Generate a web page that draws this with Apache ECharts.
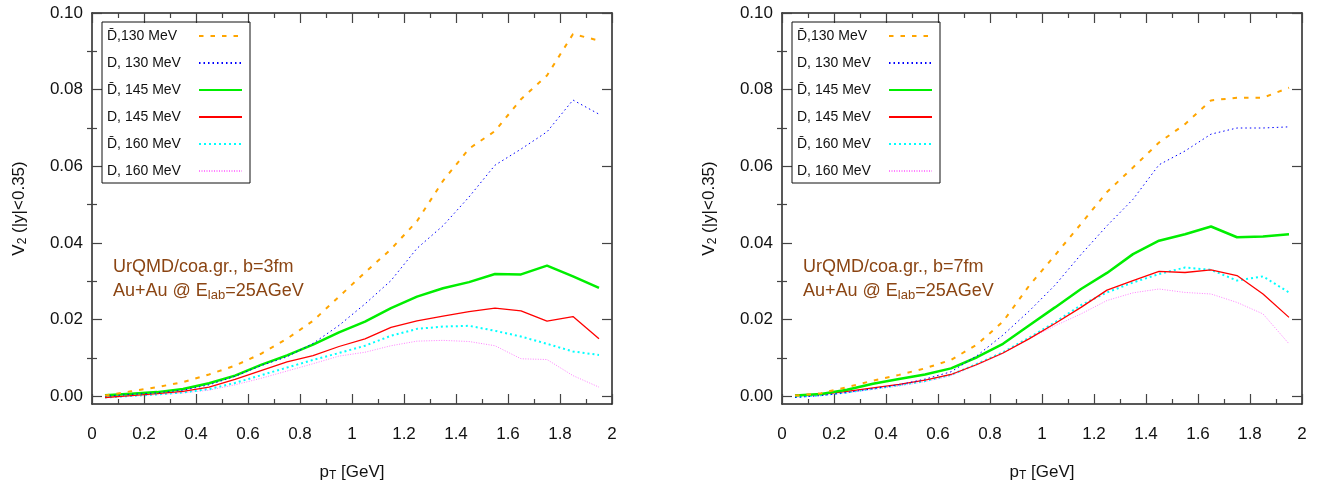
<!DOCTYPE html>
<html><head><meta charset="utf-8">
<script src="https://cdn.jsdelivr.net/npm/echarts@6/dist/echarts.min.js"></script>
<style>html,body{margin:0;padding:0;background:#fff}#c{width:1328px;height:487px}</style>
</head><body><div id="c"></div>
<script>
// ---------- data ----------
const pT = [0.05,0.15,0.25,0.35,0.45,0.55,0.65,0.75,0.85,0.95,1.05,1.15,1.25,1.35,1.45,1.55,1.65,1.75,1.85,1.95];
const xTicks = [0,0.2,0.4,0.6,0.8,1,1.2,1.4,1.6,1.8,2];
const yTicks = [0,0.02,0.04,0.06,0.08,0.1];
const yMinorTicks = [0.01,0.03,0.05,0.07,0.09];
const seriesNames = ['D\u0304,130 MeV','D, 130 MeV','D\u0304, 145 MeV','D, 145 MeV','D\u0304, 160 MeV','D, 160 MeV'];
const panelTitles = ['UrQMD/coa.gr., b=3fm','UrQMD/coa.gr., b=7fm'];
const reactionText = 'Au+Au @ E{s|lab}=25AGeV';
const xAxisTitle = 'p{s|T} [GeV]';
const yAxisTitle = 'V{s|2} (|y|<0.35)';

// b = 3 fm (left panel)
const b3_Dbar130 = [0.0002,0.0013,0.0024,0.0037,0.0057,0.0080,0.0111,0.0150,0.0197,0.0260,0.0323,0.0384,0.0457,0.0562,0.0646,0.0692,0.0775,0.0837,0.0945,0.0928];
const b3_D130    = [0.0000,0.0005,0.0009,0.0016,0.0030,0.0052,0.0080,0.0103,0.0138,0.0185,0.0241,0.0302,0.0386,0.0445,0.0520,0.0603,0.0645,0.0690,0.0773,0.0736];
const b3_Dbar145 = [0.0003,0.0007,0.0011,0.0019,0.0034,0.0054,0.0082,0.0107,0.0135,0.0167,0.0195,0.0230,0.0260,0.0282,0.0298,0.0319,0.0318,0.0341,0.0313,0.0283];
const b3_D145    = [-0.0003,0.0002,0.0007,0.0013,0.0024,0.0044,0.0067,0.0090,0.0106,0.0130,0.0150,0.0180,0.0197,0.0209,0.0221,0.0230,0.0223,0.0196,0.0208,0.0150];
const b3_Dbar160 = [-0.0003,0.0001,0.0005,0.0010,0.0019,0.0035,0.0055,0.0075,0.0095,0.0113,0.0132,0.0158,0.0176,0.0182,0.0184,0.0171,0.0156,0.0137,0.0117,0.0108];
const b3_D160    = [-0.0003,0.0000,0.0004,0.0009,0.0016,0.0030,0.0047,0.0066,0.0085,0.0105,0.0115,0.0132,0.0144,0.0146,0.0143,0.0132,0.0098,0.0096,0.0054,0.0024];

// b = 7 fm (right panel)
const b7_Dbar130 = [0.0002,0.0008,0.0024,0.0041,0.0056,0.0073,0.0095,0.0135,0.0195,0.0288,0.0368,0.0450,0.0533,0.0597,0.0662,0.0710,0.0772,0.0779,0.0779,0.0805];
const b7_D130    = [-0.0003,0.0002,0.0010,0.0020,0.0030,0.0045,0.0064,0.0106,0.0160,0.0222,0.0290,0.0370,0.0445,0.0514,0.0604,0.0640,0.0684,0.0700,0.0700,0.0703];
const b7_Dbar145 = [0.0002,0.0006,0.0017,0.0033,0.0045,0.0057,0.0073,0.0102,0.0137,0.0185,0.0232,0.0280,0.0322,0.0371,0.0406,0.0423,0.0443,0.0415,0.0417,0.0423];
const b7_D145    = [0.0003,0.0005,0.0013,0.0022,0.0031,0.0042,0.0057,0.0083,0.0113,0.0150,0.0190,0.0232,0.0277,0.0302,0.0326,0.0323,0.0330,0.0315,0.0267,0.0206];
const b7_Dbar160 = [-0.0002,0.0003,0.0010,0.0020,0.0029,0.0040,0.0056,0.0085,0.0115,0.0153,0.0193,0.0238,0.0271,0.0297,0.0319,0.0336,0.0330,0.0302,0.0313,0.0271];
const b7_D160    = [-0.0002,0.0002,0.0009,0.0018,0.0027,0.0038,0.0054,0.0082,0.0112,0.0150,0.0184,0.0215,0.0250,0.0270,0.0280,0.0271,0.0267,0.0245,0.0215,0.0137];

const panels = [
  [b3_Dbar130,b3_D130,b3_Dbar145,b3_D145,b3_Dbar160,b3_D160],
  [b7_Dbar130,b7_D130,b7_Dbar145,b7_D145,b7_Dbar160,b7_D160]
];

// ---------- styles ----------
const FONT = "'Liberation Sans', Arial, sans-serif";
const lineStyles = [
  {color:'#ffa500', width:2,   type:[4.5,7]},
  {color:'#0000ff', width:1,   type:[1.5,3]},
  {color:'#00ee00', width:2.5, type:'solid'},
  {color:'#ff0000', width:1.3, type:'solid'},
  {color:'#00ffff', width:2,   type:[2,3]},
  {color:'#ff80ff', width:1,   type:[1,1.5]}
];
const gridLefts = [92, 782];
const gridW = 520;
const frameColor = '#222';
const tickColor = '#444';
const YMIN = -0.002, YMAX = 0.1;

const grids = gridLefts.map(l => ({left:l, width:gridW, top:13, bottom:82, containLabel:false}));

const xAxes = [], yAxes = [], series = [], legends = [], graphics = [];
gridLefts.forEach((l, g) => {
  xAxes.push({
    gridIndex:g, type:'value', position:'bottom', min:0, max:2, interval:0.2,
    axisLine:{show:true, onZero:false, lineStyle:{color:frameColor, width:1.5}},
    axisTick:{show:true, inside:true, length:10, lineStyle:{color:tickColor, width:1.2}},
    minorTick:{show:true, splitNumber:2, length:5, lineStyle:{color:tickColor, width:1.2}},
    splitLine:{show:false},
    axisLabel:{show:true, margin:22, fontSize:17, color:'#111', fontFamily:FONT,
      customValues:xTicks, formatter:v => String(+v.toFixed(1))},
    name:xAxisTitle, nameLocation:'middle', nameGap:58,
    nameTextStyle:{fontSize:17, color:'#111', fontFamily:FONT, lineHeight:20,
      rich:{s:{fontSize:12, lineHeight:10, verticalAlign:'bottom', fontFamily:FONT, color:'#111'}}}
  });
  xAxes.push({
    gridIndex:g, type:'value', position:'top', min:0, max:2, interval:0.2,
    axisLine:{show:true, onZero:false, lineStyle:{color:frameColor, width:1.5}},
    axisTick:{show:true, inside:true, length:10, lineStyle:{color:tickColor, width:1.2}},
    minorTick:{show:true, splitNumber:2, length:5, lineStyle:{color:tickColor, width:1.2}},
    splitLine:{show:false}, axisLabel:{show:false}
  });
  yAxes.push({
    gridIndex:g, type:'value', position:'left', min:YMIN, max:YMAX,
    axisLine:{show:true, onZero:false, lineStyle:{color:frameColor, width:1.5}},
    axisTick:{show:true, inside:true, length:10, customValues:yTicks, lineStyle:{color:tickColor, width:1.2}},
    splitLine:{show:false},
    axisLabel:{show:true, margin:9, fontSize:17, color:'#111', fontFamily:FONT,
      customValues:yTicks, formatter:v => v.toFixed(2)},
    name:yAxisTitle, nameLocation:'middle', nameGap:63, nameRotate:90,
    nameTextStyle:{fontSize:17, color:'#111', fontFamily:FONT, lineHeight:20,
      rich:{s:{fontSize:12, lineHeight:10, verticalAlign:'bottom', fontFamily:FONT, color:'#111'}}}
  });
  yAxes.push({
    gridIndex:g, type:'value', position:'left', min:YMIN, max:YMAX,
    axisLine:{show:false},
    axisTick:{show:true, inside:true, length:5, customValues:yMinorTicks, lineStyle:{color:tickColor, width:1.2}},
    splitLine:{show:false}, axisLabel:{show:false}
  });
  yAxes.push({
    gridIndex:g, type:'value', position:'right', min:YMIN, max:YMAX,
    axisLine:{show:true, onZero:false, lineStyle:{color:frameColor, width:1.5}},
    axisTick:{show:true, inside:true, length:10, customValues:yTicks, lineStyle:{color:tickColor, width:1.2}},
    splitLine:{show:false}, axisLabel:{show:false}
  });
  yAxes.push({
    gridIndex:g, type:'value', position:'right', min:YMIN, max:YMAX,
    axisLine:{show:false},
    axisTick:{show:true, inside:true, length:5, customValues:yMinorTicks, lineStyle:{color:tickColor, width:1.2}},
    splitLine:{show:false}, axisLabel:{show:false}
  });

  panels[g].forEach((vals, i) => {
    series.push({
      type:'line', name:seriesNames[i], xAxisIndex:g*2, yAxisIndex:g*4,
      data:pT.map((x, k) => [x, vals[k]]),
      showSymbol:false, symbol:'none', smooth:false, silent:true, animation:false,
      z: 10 - i,
      lineStyle:Object.assign({}, lineStyles[i]),
      itemStyle:{color:lineStyles[i].color}
    });
  });

  legends.push({
    show:true,
    left:l + 10, top:22, orient:'vertical', align:'right',
    data:seriesNames, selectedMode:false,
    borderColor:'#111', borderWidth:1, borderRadius:0,
    padding:[7,7,5,5], itemGap:13, itemWidth:43, itemHeight:14,
    itemStyle:{opacity:0},
    formatter:'{t|{name}}',
    textStyle:{fontSize:14, color:'#111', fontFamily:FONT,
      rich:{t:{width:87, align:'left', fontSize:14, color:'#111', fontFamily:FONT}}}
  });

  graphics.push({
    type:'text', left:l + 21, top:258,
    style:{text:panelTitles[g], fontSize:18, fontFamily:FONT, fill:'#8b4513'}
  });
  graphics.push({
    type:'text', left:l + 21, top:280,
    style:{text:reactionText, fontSize:18, fontFamily:FONT, fill:'#8b4513', lineHeight:22,
      rich:{s:{fontSize:13, lineHeight:11, verticalAlign:'bottom', fontFamily:FONT, fill:'#8b4513'}}}
  });
});

const chart = echarts.init(document.getElementById('c'), null, {renderer:'canvas'});
chart.setOption({
  animation:false,
  backgroundColor:'#fff',
  grid:grids, xAxis:xAxes, yAxis:yAxes, series:series,
  legend:legends,
  graphic:graphics
});
</script></body></html>
